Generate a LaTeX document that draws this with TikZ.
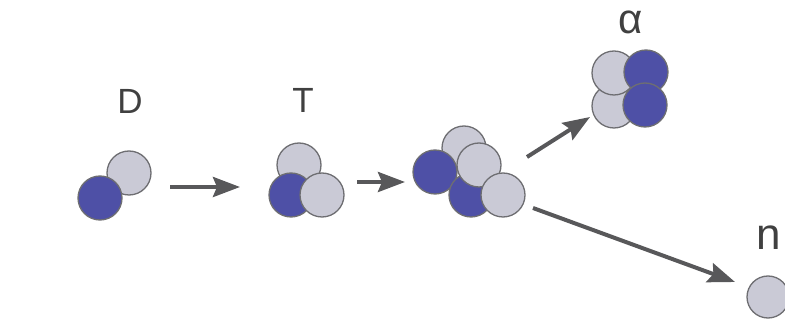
\documentclass[tikz,border=0pt]{standalone}
\usepackage{fontspec}
\setmainfont{Liberation Sans}
\usepackage{xcolor}
\usetikzlibrary{arrows.meta}

\definecolor{nblue}{RGB}{78,80,166}
\definecolor{pgray}{RGB}{202,202,214}
\definecolor{rimgray}{RGB}{110,110,114}
\definecolor{arrowgray}{RGB}{88,88,90}

\begin{document}
\begin{tikzpicture}[
    x=1pt, y=-1pt,
    ball/.style={circle, draw=rimgray, line width=1.3pt, minimum size=44pt, inner sep=0pt},
    neutron/.style={ball, fill=nblue},
    proton/.style={ball, fill=pgray},
    label/.style={text=black!75, inner sep=0pt},
    arrow/.style={-{Stealth[length=27pt, width=20pt, inset=4pt]}, line width=4pt, arrowgray}
]
\useasboundingbox (0,0) rectangle (785,320);

% deuteron
\node[proton] (dp) at (129,173) {};
\node[neutron] (dn) at (100,198) {};
\node[label, font=\fontsize{35}{35}\selectfont] (dlab) at (130,101) {D};

% triton
\node[proton] (tp1) at (299,165) {};
\node[neutron] (tn) at (291,195) {};
\node[proton] (tp2) at (322,195) {};
\node[label, font=\fontsize{35}{35}\selectfont] (tlab) at (303,100) {T};

% compound nucleus
\node[proton] (cp1) at (464,148) {};
\node[neutron] (cn1) at (435,172) {};
\node[neutron] (cn2) at (471,195) {};
\node[proton] (cp2) at (479,165) {};
\node[proton] (cp3) at (503,195) {};

% alpha particle
\node[proton] (ap1) at (614,106) {};
\node[proton] (ap2) at (614,73) {};
\node[neutron] (an1) at (646,72) {};
\node[neutron] (an2) at (645,105) {};
\node[label, font=\fontsize{42}{42}\selectfont] (alab) at (631,22) {α};

% free neutron
\node[proton, minimum size=42pt] (free) at (768,297) {};
\node[label, font=\fontsize{44}{44}\selectfont] (nlab) at (769,238) {n};

% arrow ends
\coordinate (a1s) at (170,187);
\coordinate (a1e) at (240,187);
\coordinate (a2s) at (357,182);
\coordinate (a2e) at (405,182);
\coordinate (a3s) at (527,157);
\coordinate (a3e) at (590,117);
\coordinate (a4s) at (533,208);
\coordinate (a4e) at (735,282);

\draw[arrow] (a1s) -- (a1e);
\draw[arrow] (a2s) -- (a2e);
\draw[arrow] (a3s) -- (a3e);
\draw[arrow] (a4s) -- (a4e);

\end{tikzpicture}
\end{document}
